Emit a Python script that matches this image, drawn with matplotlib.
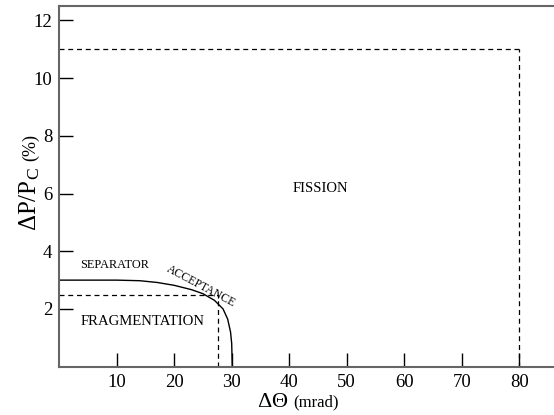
import matplotlib
matplotlib.use("Agg")
import matplotlib.pyplot as plt

plt.rcParams['font.family'] = ['Liberation Serif', 'DejaVu Serif']
plt.rcParams['mathtext.fontset'] = 'custom'
plt.rcParams['mathtext.rm'] = 'Liberation Serif'
plt.rcParams['mathtext.it'] = 'Liberation Serif:italic'

# separator acceptance curve
acc_x = [0, 10, 14, 17, 20, 23, 25, 27, 28.5, 29.3, 29.8, 30.0, 30.1]
acc_y = [3.0, 3.0, 2.98, 2.92, 2.82, 2.67, 2.53, 2.3, 2.0, 1.65, 1.2, 0.8, 0.0]

# region boxes: (x limit, y limit)
frag_box = (27.7, 2.5)
fiss_box = (80, 11)

xticks = [10, 20, 30, 40, 50, 60, 70, 80]
yticks = [2, 4, 6, 8, 10, 12]

fig = plt.figure(figsize=(5.54, 4.15), dpi=100)
ax = fig.add_axes([59.2/554, (415-366.7)/415, 517.5/554, 360.7/415])
ax.set_xlim(0, 90)
ax.set_ylim(0, 12.5)

ax.plot(acc_x, acc_y, color="black", linewidth=1.0)
for bx, by in [frag_box, fiss_box]:
    ax.plot([0, bx], [by, by], color="black", linewidth=0.9, dashes=(4, 3))
    ax.plot([bx, bx], [0, by], color="black", linewidth=0.9, dashes=(4, 3))

ax.text(3.7, 3.3, "SEPARATOR", fontsize=8.8, ha="left", va="bottom")
ax.text(24.6, 2.8, "ACCEPTANCE", fontsize=8.5, ha="center", va="center", rotation=-28)
ax.text(3.7, 1.56, "FRAGMENTATION", fontsize=10.6, ha="left", va="center")
ax.text(45.4, 6.19, "FISSION", fontsize=10.5, ha="center", va="center")

ax.set_xticks(xticks)
ax.set_yticks(yticks)
ax.tick_params(direction="in", length=10, width=1, labelsize=13.5, pad=5, colors="black")
for s in ax.spines.values():
    s.set_color("#666666")
    s.set_linewidth(1.5)

fig.text(257/554, 1 - 402/415, r"$\Delta\Theta$", fontsize=16, ha="left", va="center")
fig.text(293/554, 1 - 402/415, "(mrad)", fontsize=12, ha="left", va="center")
fig.text(30/554, 1 - 199/415, r"$\Delta\mathrm{P/P_C}$", fontsize=18, ha="center", va="center", rotation=90)
fig.text(31/554, 1 - 147/415, "(%)", fontsize=13, ha="center", va="center", rotation=90)

fig.savefig("out.png", dpi=100)
